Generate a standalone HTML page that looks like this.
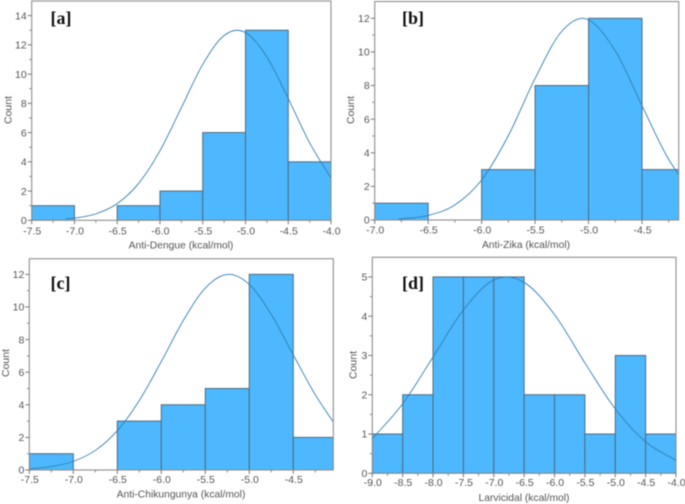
<!DOCTYPE html>
<html lang="en">
<head>
<meta charset="utf-8">
<title>Histograms of binding energy</title>
<style>
html,body{margin:0;padding:0;background:#fff;width:685px;height:504px;overflow:hidden}
svg{display:block;filter:blur(0.4px)}
text{font-family:"Liberation Sans",sans-serif;fill:#555}
.tag{font-family:"Liberation Serif",serif;font-weight:bold;font-size:18px;fill:#111}
</style>
</head>
<body>
<svg id="figure" xmlns="http://www.w3.org/2000/svg" width="685" height="504" viewBox="0 0 685 504"></svg>
<script>
// Panel [a] values
const aBinStarts = [-7.5,-7,-6.5,-6,-5.5,-5,-4.5];
const aCounts = [1,0,1,2,6,13,4];
const aCurveX = [-7.1,-7,-6.75,-6.5,-6.25,-6,-5.75,-5.5,-5.25,-5.1,-5,-4.75,-4.5,-4.25,-4];
const aCurveY = [0.09,0.15,0.44,1.14,2.52,4.76,7.7,10.66,12.64,13,12.84,11.17,8.33,5.3,2.88];
const aXTicks = [-7.5,-7,-6.5,-6,-5.5,-5,-4.5,-4];
const aYTicks = [0,2,4,6,8,10,12,14];

// Panel [b] values
const bBinStarts = [-7,-6.5,-6,-5.5,-5,-4.5];
const bCounts = [1,0,3,8,12,3];
const bCurveX = [-6.78,-6.5,-6.25,-6,-5.75,-5.5,-5.25,-5.06,-4.75,-4.5,-4.25,-4.16];
const bCurveY = [0.05,0.27,0.9,2.38,5.02,8.42,11.23,12,10.06,6.8,3.6,2.72];
const bXTicks = [-7,-6.5,-6,-5.5,-5,-4.5];
const bYTicks = [0,2,4,6,8,10,12];

// Panel [c] values
const cBinStarts = [-7.5,-7,-6.5,-6,-5.5,-5,-4.5];
const cCounts = [1,0,3,4,5,12,2];
const cCurveX = [-7.5,-7.25,-7,-6.75,-6.5,-6.25,-6,-5.75,-5.5,-5.23,-5,-4.75,-4.5,-4.25,-4.05];
const cCurveY = [0.07,0.21,0.53,1.2,2.41,4.26,6.65,9.17,11.16,12,11.38,9.54,7.06,4.62,2.98];
const cXTicks = [-7.5,-7,-6.5,-6,-5.5,-5,-4.5];
const cYTicks = [0,2,4,6,8,10,12];

// Panel [d] values
const dBinStarts = [-9,-8.5,-8,-7.5,-7,-6.5,-6,-5.5,-5,-4.5];
const dCounts = [1,2,5,5,5,2,2,1,3,1];
const dCurveX = [-9,-8.5,-8,-7.5,-7,-6.78,-6.5,-6,-5.5,-5,-4.5,-4];
const dCurveY = [0.88,1.77,2.96,4.16,4.92,5,4.86,4.04,2.81,1.64,0.8,0.33];
const dXTicks = [-9,-8.5,-8,-7.5,-7,-6.5,-6,-5.5,-5,-4.5,-4];
const dYTicks = [0,1,2,3,4,5];

const BIN_WIDTH = 0.5;
const NS = 'http://www.w3.org/2000/svg';
const figure = document.getElementById('figure');

function make(parent, tag, props, content) {
  const node = document.createElementNS(NS, tag);
  for (const key in props) node.setAttribute(key, props[key]);
  if (content !== undefined) node.textContent = content;
  parent.appendChild(node);
  return node;
}

// Cubic Hermite through the points, with slopes weighted for uneven spacing.
function smoothPath(pts) {
  const n = pts.length;
  const h = [], s = [];
  for (let i = 0; i < n - 1; i++) {
    h.push(pts[i + 1][0] - pts[i][0]);
    s.push((pts[i + 1][1] - pts[i][1]) / h[i]);
  }
  const m = pts.map((p, i) => {
    if (i === 0) return s[0];
    if (i === n - 1) return s[n - 2];
    return (h[i] * s[i - 1] + h[i - 1] * s[i]) / (h[i - 1] + h[i]);
  });
  let d = 'M' + pts[0][0].toFixed(2) + ' ' + pts[0][1].toFixed(2);
  for (let i = 0; i < n - 1; i++) {
    const t = h[i] / 3;
    d += 'C' + (pts[i][0] + t).toFixed(2) + ' ' + (pts[i][1] + m[i] * t).toFixed(2) + ' ' +
         (pts[i + 1][0] - t).toFixed(2) + ' ' + (pts[i + 1][1] - m[i + 1] * t).toFixed(2) + ' ' +
         pts[i + 1][0].toFixed(2) + ' ' + pts[i + 1][1].toFixed(2);
  }
  return d;
}

function drawPanel(cfg) {
  const g = make(figure, 'g', {});
  
  

  const scaleX = v => cfg.left + (v - cfg.xMin) / (cfg.xMax - cfg.xMin) * (cfg.right - cfg.left);
  const scaleY = v => cfg.bottom - (v - 0) / cfg.yMax * (cfg.bottom - cfg.top);

  const clip = make(g, 'clipPath', {id: 'clip-' + cfg.id});
  make(clip, 'rect', {x: cfg.left, y: cfg.top, width: cfg.right - cfg.left, height: cfg.bottom - cfg.top});

  const bars = make(g, 'g', {'clip-path': 'url(#clip-' + cfg.id + ')'});
  
  
  cfg.starts.forEach((start, i) => {
    if (!cfg.counts[i]) return;
    const x0 = scaleX(start), x1 = scaleX(start + BIN_WIDTH), y = scaleY(cfg.counts[i]);
    const bar = make(bars, 'rect', {x: x0, y: y, width: x1 - x0, height: cfg.bottom - y, fill: '#4db8fd', stroke: '#4f6b80', 'stroke-width': 1});
    
    
  });

  const frame = make(g, 'rect', {x: cfg.left, y: cfg.top, width: cfg.right - cfg.left, height: cfg.bottom - cfg.top, fill: 'none', stroke: '#8e8e8e', 'stroke-width': 1.1});
  
  

  const curvePts = cfg.curveX.map((x, i) => [scaleX(x), scaleY(cfg.curveY[i])]);
  const curve = make(g, 'path', {d: smoothPath(curvePts), fill: 'none', stroke: '#2f7fb0', 'stroke-width': 0.9, 'clip-path': 'url(#clip-' + cfg.id + ')'});
  
  

  const xAxis = make(g, 'g', {});
  
  
  cfg.xTicks.forEach((v, i) => {
    const x = scaleX(v);
    make(xAxis, 'line', {x1: x, x2: x, y1: cfg.bottom, y2: cfg.bottom + 4, stroke: '#777'});
    const next = v + 0.25;
    if (next < cfg.xMax) make(xAxis, 'line', {x1: scaleX(next), x2: scaleX(next), y1: cfg.bottom, y2: cfg.bottom + 2.5, stroke: '#888'});
    const label = make(xAxis, 'text', {x: x + 0.5, y: cfg.xLabelY, 'font-size': 10.5, 'text-anchor': 'middle'}, v.toFixed(1));
    
    
  });

  const yAxis = make(g, 'g', {});
  
  
  const step = cfg.yTicks[1] - cfg.yTicks[0];
  cfg.yTicks.forEach((v, i) => {
    const y = scaleY(v);
    make(yAxis, 'line', {x1: cfg.left - 4, x2: cfg.left, y1: y, y2: y, stroke: '#777'});
    const mid = v + step / 2;
    if (mid < cfg.yMax) make(yAxis, 'line', {x1: cfg.left - 2.5, x2: cfg.left, y1: scaleY(mid), y2: scaleY(mid), stroke: '#888'});
    const label = make(yAxis, 'text', {x: cfg.left - 5, y: y + 3.7, 'font-size': 10.5, 'text-anchor': 'end'}, String(v));
    
    
  });

  const xTitle = make(g, 'text', {x: cfg.xTitleX, y: cfg.xTitleY, 'font-size': 10.3, 'text-anchor': 'middle'}, cfg.xTitle);
  
  

  const yTitle = make(g, 'text', {x: 0, y: 0, 'font-size': 10.5, 'text-anchor': 'middle', transform: 'translate(' + cfg.yTitleX + ' ' + cfg.yTitleY + ') rotate(-90)'}, 'Count');
  
  

  const tag = make(g, 'text', {x: cfg.tagX, y: cfg.tagY, class: 'tag'}, '[' + cfg.id + ']');
  
  
}

drawPanel({id:'a', left:31.7, right:331, top:1, bottom:220.3, xMin:-7.5, xMax:-4, yMax:15,
  starts:aBinStarts, counts:aCounts, curveX:aCurveX, curveY:aCurveY, xTicks:aXTicks, yTicks:aYTicks,
  xTitle:'Anti-Dengue (kcal/mol)', xTitleX:181, xTitleY:248.5, xLabelY:234.5, yTitleX:11.5, yTitleY:110, tagX:50.5, tagY:24});
drawPanel({id:'b', left:374.7, right:678.7, top:1.5, bottom:220, xMin:-7, xMax:-4.157, yMax:13,
  starts:bBinStarts, counts:bCounts, curveX:bCurveX, curveY:bCurveY, xTicks:bXTicks, yTicks:bYTicks,
  xTitle:'Anti-Zika (kcal/mol)', xTitleX:526, xTitleY:248, xLabelY:233.5, yTitleX:354, yTitleY:110, tagX:402, tagY:24});
drawPanel({id:'c', left:29.3, right:333.3, top:258.7, bottom:470, xMin:-7.5, xMax:-4.045, yMax:12.96,
  starts:cBinStarts, counts:cCounts, curveX:cCurveX, curveY:cCurveY, xTicks:cXTicks, yTicks:cYTicks,
  xTitle:'Anti-Chikungunya (kcal/mol)', xTitleX:181, xTitleY:497.5, xLabelY:483, yTitleX:9, yTitleY:363, tagX:50.5, tagY:289});
drawPanel({id:'d', left:372.3, right:676, top:257.3, bottom:473.3, xMin:-9, xMax:-4, yMax:5.5,
  starts:dBinStarts, counts:dCounts, curveX:dCurveX, curveY:dCurveY, xTicks:dXTicks, yTicks:dYTicks,
  xTitle:'Larvicidal (kcal/mol)', xTitleX:524, xTitleY:501, xLabelY:486, yTitleX:356.5, yTitleY:365, tagX:402, tagY:289});
</script>
</body>
</html>
